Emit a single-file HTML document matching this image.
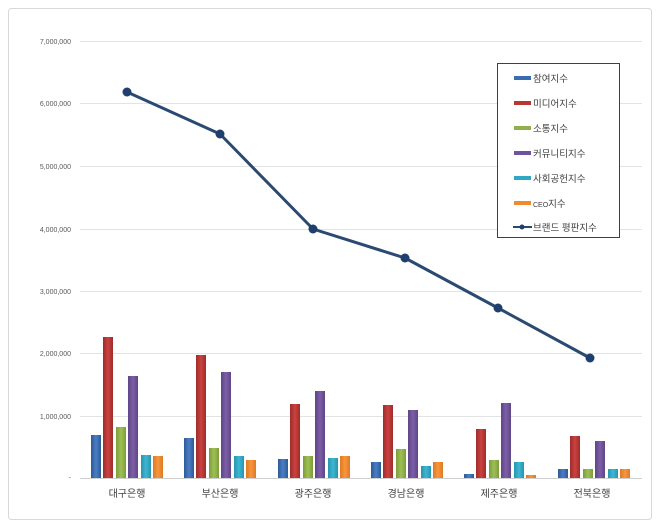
<!DOCTYPE html>
<html><head><meta charset="utf-8"><style>
body{margin:0;background:#fff;}
svg{display:block;font-family:"Liberation Sans","Noto Sans CJK KR",sans-serif;}
</style></head><body>
<svg width="660" height="528" xmlns="http://www.w3.org/2000/svg">
<defs>
<linearGradient id="b" x1="0" x2="1"><stop offset="0" stop-color="#2c5a96"/><stop offset=".5" stop-color="#4a7ec4"/><stop offset="1" stop-color="#2c5a96"/></linearGradient>
<linearGradient id="r" x1="0" x2="1"><stop offset="0" stop-color="#a02c2a"/><stop offset=".5" stop-color="#c94240"/><stop offset="1" stop-color="#a02c2a"/></linearGradient>
<linearGradient id="g" x1="0" x2="1"><stop offset="0" stop-color="#7e9d3a"/><stop offset=".5" stop-color="#9dbf55"/><stop offset="1" stop-color="#7e9d3a"/></linearGradient>
<linearGradient id="p" x1="0" x2="1"><stop offset="0" stop-color="#5e4585"/><stop offset=".5" stop-color="#7d5fa8"/><stop offset="1" stop-color="#5e4585"/></linearGradient>
<linearGradient id="c" x1="0" x2="1"><stop offset="0" stop-color="#2595b0"/><stop offset=".5" stop-color="#3fb6d2"/><stop offset="1" stop-color="#2595b0"/></linearGradient>
<linearGradient id="o" x1="0" x2="1"><stop offset="0" stop-color="#dd7a22"/><stop offset=".5" stop-color="#f7963e"/><stop offset="1" stop-color="#dd7a22"/></linearGradient>
</defs>
<rect x="8.5" y="8.5" width="643" height="511" rx="3" fill="#fff" stroke="#d9d9d9"/>
<g stroke="#e3e3e3" stroke-width="1">
<line x1="80" x2="642" y1="41.5" y2="41.5"/><line x1="80" x2="642" y1="103.5" y2="103.5"/>
<line x1="80" x2="642" y1="166.5" y2="166.5"/><line x1="80" x2="642" y1="229.5" y2="229.5"/>
<line x1="80" x2="642" y1="291.5" y2="291.5"/><line x1="80" x2="642" y1="353.5" y2="353.5"/>
<line x1="80" x2="642" y1="416.5" y2="416.5"/>
</g>
<line x1="80" x2="642" y1="478.5" y2="478.5" stroke="#d0d0d0"/>
<g font-size="7" fill="#595959" text-anchor="end">
<text x="71" y="44">7,000,000</text><text x="71" y="106">6,000,000</text><text x="71" y="169">5,000,000</text>
<text x="71" y="232">4,000,000</text><text x="71" y="294">3,000,000</text><text x="71" y="356">2,000,000</text>
<text x="71" y="419">1,000,000</text><text x="71" y="480">-</text>
</g>
<g>
<rect x="91" y="435" width="10" height="43" fill="url(#b)"/><rect x="103" y="337" width="10" height="141" fill="url(#r)"/><rect x="116" y="427" width="10" height="51" fill="url(#g)"/><rect x="128" y="376" width="10" height="102" fill="url(#p)"/><rect x="141" y="455" width="10" height="23" fill="url(#c)"/><rect x="153" y="456" width="10" height="22" fill="url(#o)"/>
</g>
<g transform="translate(93,0)">
<rect x="91" y="438" width="10" height="40" fill="url(#b)"/><rect x="103" y="355" width="10" height="123" fill="url(#r)"/><rect x="116" y="448" width="10" height="30" fill="url(#g)"/><rect x="128" y="372" width="10" height="106" fill="url(#p)"/><rect x="141" y="456" width="10" height="22" fill="url(#c)"/><rect x="153" y="460" width="10" height="18" fill="url(#o)"/>
</g>
<g transform="translate(187,0)">
<rect x="91" y="459" width="10" height="19" fill="url(#b)"/><rect x="103" y="404" width="10" height="74" fill="url(#r)"/><rect x="116" y="456" width="10" height="22" fill="url(#g)"/><rect x="128" y="391" width="10" height="87" fill="url(#p)"/><rect x="141" y="458" width="10" height="20" fill="url(#c)"/><rect x="153" y="456" width="10" height="22" fill="url(#o)"/>
</g>
<g transform="translate(280,0)">
<rect x="91" y="462" width="10" height="16" fill="url(#b)"/><rect x="103" y="405" width="10" height="73" fill="url(#r)"/><rect x="116" y="449" width="10" height="29" fill="url(#g)"/><rect x="128" y="410" width="10" height="68" fill="url(#p)"/><rect x="141" y="466" width="10" height="12" fill="url(#c)"/><rect x="153" y="462" width="10" height="16" fill="url(#o)"/>
</g>
<g transform="translate(373,0)">
<rect x="91" y="474" width="10" height="4" fill="url(#b)"/><rect x="103" y="429" width="10" height="49" fill="url(#r)"/><rect x="116" y="460" width="10" height="18" fill="url(#g)"/><rect x="128" y="403" width="10" height="75" fill="url(#p)"/><rect x="141" y="462" width="10" height="16" fill="url(#c)"/><rect x="153" y="475" width="10" height="3" fill="url(#o)"/>
</g>
<g transform="translate(467,0)">
<rect x="91" y="469" width="10" height="9" fill="url(#b)"/><rect x="103" y="436" width="10" height="42" fill="url(#r)"/><rect x="116" y="469" width="10" height="9" fill="url(#g)"/><rect x="128" y="441" width="10" height="37" fill="url(#p)"/><rect x="141" y="469" width="10" height="9" fill="url(#c)"/><rect x="153" y="469" width="10" height="9" fill="url(#o)"/>
</g>
<polyline points="127,92 220,134 313,229 405,258 498,308 590,358" fill="none" stroke="#2a4a72" stroke-width="3" stroke-linejoin="round"/>
<g fill="#1f3f6e">
<circle cx="127" cy="92" r="4.5"/><circle cx="220" cy="134" r="4.5"/><circle cx="313" cy="229" r="4.5"/><circle cx="405" cy="258" r="4.5"/><circle cx="498" cy="308" r="4.5"/><circle cx="590" cy="358" r="4.5"/>
</g>
<g font-size="10" fill="#404040" text-anchor="middle">
<text x="127" y="497">대구은행</text><text x="220" y="497">부산은행</text><text x="313" y="497">광주은행</text>
<text x="406" y="497">경남은행</text><text x="499" y="497">제주은행</text><text x="592" y="497">전북은행</text>
</g>
<rect x="497.5" y="63.5" width="122" height="174" fill="#fff" stroke="#404040"/>
<g font-size="9.5" fill="#404040">
<rect x="514" y="76" width="17" height="4" fill="#3a6db0"/><text x="533" y="82">참여지수</text>
<rect x="514" y="101" width="17" height="4" fill="#b83634"/><text x="533" y="107">미디어지수</text>
<rect x="514" y="126" width="17" height="4" fill="#8fb04a"/><text x="533" y="132">소통지수</text>
<rect x="514" y="151" width="17" height="4" fill="#6f52a0"/><text x="533" y="157">커뮤니티지수</text>
<rect x="514" y="176" width="17" height="4" fill="#30a8c5"/><text x="533" y="182">사회공헌지수</text>
<rect x="514" y="201" width="17" height="4" fill="#ef8a30"/><text x="533" y="207"><tspan font-size="7">CEO</tspan>지수</text>
<line x1="513" x2="532" y1="227" y2="227" stroke="#2a4a72" stroke-width="2"/><circle cx="522" cy="227" r="2.5" fill="#1f3f6e"/><text x="533" y="231">브랜드 평판지수</text>
</g>
</svg>
</body></html>
